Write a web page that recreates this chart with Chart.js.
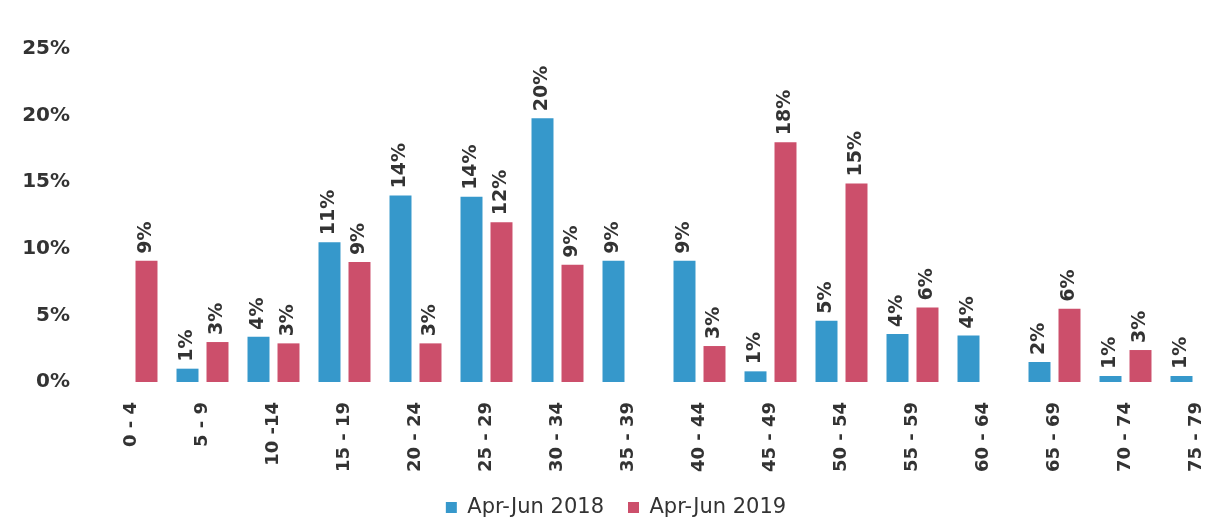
<!DOCTYPE html>
<html>
<head>
<meta charset="utf-8">
<script src="https://cdn.jsdelivr.net/npm/chart.js@4"></script>
<style>
  html, body { margin: 0; padding: 0; background: #fff; overflow: hidden; }
  #wrap { width: 1260px; height: 519px; }
</style>
</head>
<body>
<div id="wrap"><canvas id="chart"></canvas></div>
<script>
const ageGroups = ["0 - 4", "5 - 9", "10 -14", "15 - 19", "20 - 24", "25 - 29", "30 - 34", "35 - 39",
    "40 - 44", "45 - 49", "50 - 54", "55 - 59", "60 - 64", "65 - 69", "70 - 74", "75 - 79"];

// bar heights (percent)
const values2018 = [null, 1.0, 3.4, 10.5, 14.0, 13.9, 19.8, 9.1, 9.1, 0.8, 4.6, 3.6, 3.5, 1.5, 0.45, 0.45];
const values2019 = [9.1, 3.0, 2.9, 9.0, 2.9, 12.0, 8.8, null, 2.7, 18.0, 14.9, 5.6, null, 5.5, 2.4, null];

// printed labels above the bars
const labels2018 = ["", "1%", "4%", "11%", "14%", "14%", "20%", "9%", "9%", "1%", "5%", "4%", "4%", "2%", "1%", "1%"];
const labels2019 = ["9%", "3%", "3%", "9%", "3%", "12%", "9%", "", "3%", "18%", "15%", "6%", "", "6%", "3%", ""];

const yTicks = [0, 5, 10, 15, 20, 25];

const BLUE = "#3698cb";
const RED = "#cc4f6b";
const TEXT = "#333333";
const FONT = "'DejaVu Sans', Verdana, sans-serif";

// rotated value labels above each bar
const barLabels = {
    id: "barLabels",
    afterDatasetsDraw(chart) {
        const ctx = chart.ctx;
        chart.data.datasets.forEach((ds, i) => {
            const meta = chart.getDatasetMeta(i);
            meta.data.forEach((bar, j) => {
                const txt = ds.valueLabels[j];
                if (!txt || ds.data[j] == null) return;
                ctx.save();
                ctx.translate(bar.x, bar.y - 7);
                ctx.rotate(-Math.PI / 2);
                ctx.font = "bold 19px " + FONT;
                ctx.fillStyle = TEXT;
                ctx.textAlign = "left";
                ctx.textBaseline = "middle";
                ctx.fillText(txt, 0, 0);
                ctx.restore();
            });
        });
    }
};

new Chart(document.getElementById("chart"), {
    type: "bar",
    data: {
        labels: ageGroups,
        datasets: [
            { label: "Apr-Jun 2018", data: values2018, valueLabels: labels2018, backgroundColor: BLUE },
            { label: "Apr-Jun 2019", data: values2019, valueLabels: labels2019, backgroundColor: RED }
        ]
    },
    options: {
        responsive: true,
        maintainAspectRatio: false,
        animation: false,
        datasets: {
            bar: { categoryPercentage: 0.845, barPercentage: 0.733 }
        },
        layout: { padding: { top: 49, right: 28, left: 0, bottom: 0 } },
        plugins: {
            tooltip: { enabled: false },
            legend: {
                position: "bottom",
                maxHeight: 46,
                labels: {
                    boxWidth: 11,
                    boxHeight: 11,
                    padding: 24,
                    color: TEXT,
                    font: { family: FONT, size: 21 }
                }
            }
        },
        scales: {
            x: {
                afterFit(axis) { axis.height = 91; },
                grid: { display: false },
                border: { display: false },
                ticks: {
                    minRotation: 90,
                    maxRotation: 90,
                    padding: 12,
                    color: TEXT,
                    font: { family: FONT, size: 18, weight: "bold" }
                }
            },
            y: {
                min: 0,
                max: 25,
                afterBuildTicks(axis) {
                    axis.ticks = yTicks.map(v => ({ value: v }));
                },
                afterFit(axis) { axis.width = 96; },
                grid: { display: false },
                border: { display: false },
                ticks: {
                    padding: 18,
                    color: TEXT,
                    font: { family: FONT, size: 20, weight: "bold" },
                    callback: v => v + "%"
                }
            }
        }
    },
    plugins: [barLabels]
});
</script>
</body>
</html>
